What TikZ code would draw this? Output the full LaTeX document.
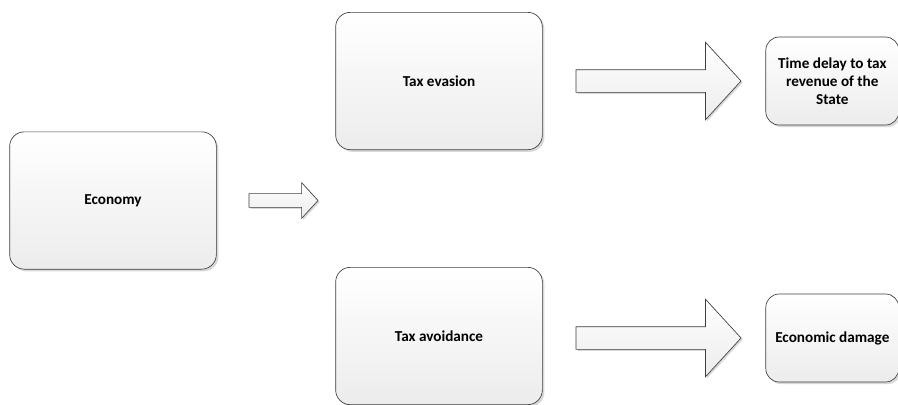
\documentclass[tikz,border=0pt]{standalone}
\usepackage{fontspec}
\setmainfont{Carlito}
\usepackage{tikz}
\usetikzlibrary{shapes, arrows.meta, positioning, shadows}

\definecolor{boxline}{HTML}{3F3F3F}
\definecolor{boxfill}{HTML}{ECECEC}

\begin{document}
\begin{tikzpicture}[
  x=0.75pt, y=-0.75pt,
  every node/.style={font=\bfseries\fontsize{11.4}{13.6}\selectfont, align=center},
  block/.style={rectangle, draw=boxline, line width=0.5pt, top color=white, bottom color=boxfill,
    drop shadow={shadow xshift=1.6pt, shadow yshift=-1.6pt, fill=black!30, opacity=0.5}, inner sep=2pt},
  bigblock/.style={block, rounded corners=11pt, minimum width=155pt, minimum height=103pt},
  smallblock/.style={block, rounded corners=10pt, minimum width=99.75pt, minimum height=66pt},
  flow/.style={single arrow, draw=boxline, line width=0.5pt, top color=white, bottom color=boxfill,
    inner xsep=0pt, minimum width=0pt, single arrow head indent=0pt, single arrow tip angle=95,
    drop shadow={shadow xshift=1.2pt, shadow yshift=-1.2pt, fill=black!30, opacity=0.5}},
  bigflow/.style={flow, minimum height=123.75pt, inner ysep=8.25pt, single arrow head extend=20.6pt},
  smallflow/.style={flow, minimum height=51.75pt, inner ysep=4.9pt, single arrow head extend=8.25pt}
]
\useasboundingbox (0,0) rectangle (898,404);

% left column
\node[bigblock] (eco) at (113,200.5) {Economy};
\node[smallflow, right=24pt of eco] (ecoarrow) {};

% middle column
\node[bigblock] (eva) at (439,81) {Tax evasion};
\node[bigblock] (ava) at (439,336) {Tax avoidance};

% right column
\node[bigflow, right=24.75pt of eva] (evaarrow) {};
\node[smallblock, right=18pt of evaarrow] (delay) {Time delay to tax\\revenue of the\\State};

\node[bigflow, right=24.75pt of ava, yshift=-1.5pt] (avaarrow) {};
\node[smallblock, right=18pt of avaarrow] (damage) {Economic damage};

\end{tikzpicture}
\end{document}
